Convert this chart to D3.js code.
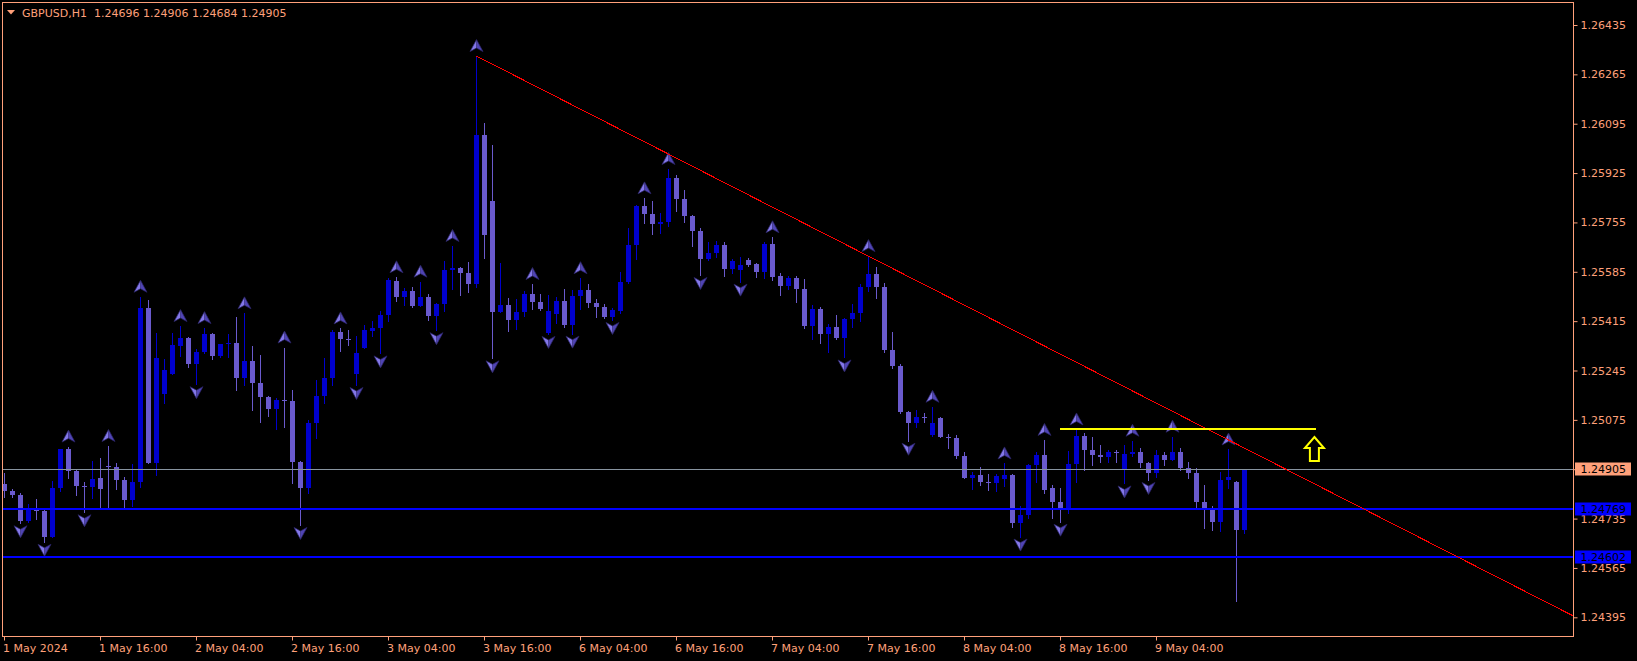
<!DOCTYPE html>
<html><head><meta charset="utf-8">
<script src="https://cdn.jsdelivr.net/npm/d3@7"></script>
<style>
html,body{margin:0;padding:0;background:#000;}
svg{display:block;}
text{font-family:"DejaVu Sans",sans-serif;font-size:11px;}
</style></head><body>
<svg id="chart" width="1637" height="661"></svg>
<script>
const symbolTitle = "GBPUSD,H1";
const headerValues = ["1.24696","1.24906","1.24684","1.24905"];

const opens = [1.24854,1.24831,1.24817,1.24728,1.24771,1.24762,1.24673,1.24839,1.24975,1.24900,
1.24847,1.24843,1.24875,1.24917,1.24914,1.24868,1.24799,1.24861,1.25461,1.24927,
1.25164,1.25234,1.25329,1.25357,1.25267,1.25308,1.25371,1.25295,1.25336,1.25339,
1.25219,1.25278,1.25201,1.25155,1.25112,1.25143,1.25141,1.24931,1.24841,1.25063,
1.25157,1.25219,1.25378,1.25354,1.25233,1.25324,1.25381,1.25392,1.25436,1.25555,
1.25499,1.25519,1.25467,1.25498,1.25433,1.25474,1.25591,1.25598,1.25582,1.25543,
1.26056,1.25829,1.25447,1.25470,1.25419,1.25446,1.25508,1.25482,1.25373,1.25440,
1.25484,1.25402,1.25501,1.25522,1.25478,1.25465,1.25430,1.25450,1.25550,1.25677,
1.25813,1.25784,1.25750,1.25757,1.25908,1.25836,1.25777,1.25726,1.25629,1.25649,
1.25677,1.25595,1.25590,1.25626,1.25612,1.25585,1.25681,1.25570,1.25537,1.25565,
1.25525,1.25399,1.25456,1.25371,1.25395,1.25358,1.25421,1.25442,1.25532,1.25577,
1.25534,1.25316,1.25262,1.25103,1.25063,1.25086,1.25023,1.25081,1.25017,1.25013,
1.24950,1.24876,1.24885,1.24860,1.24859,1.24872,1.24885,1.24721,1.24747,1.24919,
1.24954,1.24841,1.24793,1.24767,1.24923,1.25019,1.24971,1.24954,1.24948,1.24965,
1.24905,1.24957,1.24965,1.24925,1.24893,1.24954,1.24937,1.24965,1.24908,1.24893,
1.24793,1.24764,1.24724,1.24868,1.24860,1.24696];

const highs = [1.24892,1.24838,1.24822,1.24785,1.24803,1.24770,1.24865,1.24975,1.24983,1.24902,
1.24860,1.24933,1.24944,1.24985,1.24927,1.24879,1.24923,1.25499,1.25488,1.25375,
1.25286,1.25373,1.25398,1.25359,1.25320,1.25391,1.25373,1.25338,1.25371,1.25430,
1.25442,1.25329,1.25298,1.25158,1.25149,1.25324,1.25178,1.24933,1.25074,1.25212,
1.25287,1.25384,1.25390,1.25384,1.25364,1.25401,1.25415,1.25451,1.25563,1.25566,
1.25530,1.25531,1.25551,1.25508,1.25476,1.25623,1.25674,1.25602,1.25619,1.26328,
1.26098,1.26022,1.25616,1.25496,1.25490,1.25520,1.25543,1.25508,1.25505,1.25499,
1.25525,1.25523,1.25563,1.25543,1.25490,1.25474,1.25459,1.25585,1.25735,1.25815,
1.25838,1.25830,1.25788,1.25939,1.25918,1.25867,1.25781,1.25735,1.25689,1.25691,
1.25689,1.25628,1.25635,1.25633,1.25616,1.25688,1.25704,1.25580,1.25570,1.25570,
1.25559,1.25470,1.25465,1.25405,1.25436,1.25425,1.25474,1.25543,1.25639,1.25600,
1.25545,1.25377,1.25267,1.25106,1.25109,1.25100,1.25120,1.25084,1.25026,1.25024,
1.24965,1.24896,1.24912,1.24889,1.24887,1.24925,1.24887,1.24778,1.24923,1.24965,
1.25006,1.24851,1.24841,1.24968,1.25042,1.25029,1.25015,1.24988,1.24971,1.24971,
1.24988,1.25003,1.24977,1.24931,1.24971,1.24965,1.25017,1.24979,1.24931,1.24908,
1.24851,1.24778,1.24896,1.24973,1.24866,1.24906];

const lows = [1.24809,1.24809,1.24719,1.24722,1.24735,1.24655,1.24670,1.24829,1.24874,1.24815,
1.24757,1.24807,1.24770,1.24770,1.24836,1.24776,1.24778,1.24845,1.24925,1.24885,
1.25132,1.25234,1.25295,1.25258,1.25198,1.25306,1.25284,1.25293,1.25293,1.25178,
1.25195,1.25109,1.25069,1.25088,1.25043,1.25051,1.24856,1.24713,1.24824,1.25011,
1.25134,1.25195,1.25313,1.25333,1.25195,1.25322,1.25365,1.25304,1.25416,1.25485,
1.25470,1.25465,1.25466,1.25419,1.25384,1.25451,1.25525,1.25505,1.25516,1.25532,
1.25633,1.25287,1.25445,1.25382,1.25387,1.25433,1.25456,1.25455,1.25371,1.25408,
1.25396,1.25372,1.25456,1.25465,1.25428,1.25427,1.25419,1.25442,1.25545,1.25629,
1.25752,1.25714,1.25720,1.25744,1.25795,1.25757,1.25674,1.25574,1.25627,1.25637,
1.25570,1.25582,1.25551,1.25605,1.25568,1.25563,1.25557,1.25505,1.25525,1.25482,
1.25390,1.25352,1.25339,1.25310,1.25352,1.25290,1.25394,1.25416,1.25520,1.25494,
1.25310,1.25253,1.25098,1.25003,1.25049,1.25069,1.25021,1.25015,1.24977,1.24942,
1.24874,1.24836,1.24851,1.24833,1.24831,1.24847,1.24707,1.24673,1.24736,1.24862,
1.24824,1.24736,1.24724,1.24755,1.24862,1.24902,1.24919,1.24931,1.24931,1.24931,
1.24856,1.24952,1.24914,1.24868,1.24879,1.24919,1.24937,1.24902,1.24876,1.24770,
1.24703,1.24696,1.24692,1.24841,1.24452,1.24684];

const closes = [1.24831,1.24817,1.24728,1.24770,1.24762,1.24673,1.24839,1.24975,1.24900,1.24847,
1.24844,1.24871,1.24837,1.24914,1.24868,1.24799,1.24861,1.25461,1.24927,1.25287,
1.25247,1.25332,1.25357,1.25267,1.25308,1.25371,1.25295,1.25336,1.25339,1.25219,
1.25278,1.25201,1.25155,1.25112,1.25143,1.25141,1.24931,1.24841,1.25063,1.25157,
1.25219,1.25378,1.25354,1.25352,1.25304,1.25384,1.25392,1.25436,1.25557,1.25499,
1.25519,1.25467,1.25498,1.25433,1.25474,1.25591,1.25598,1.25582,1.25543,1.26056,
1.25712,1.25446,1.25470,1.25419,1.25446,1.25508,1.25482,1.25457,1.25450,1.25484,
1.25402,1.25501,1.25522,1.25478,1.25465,1.25430,1.25453,1.25550,1.25677,1.25813,
1.25784,1.25750,1.25757,1.25908,1.25836,1.25777,1.25726,1.25629,1.25649,1.25677,
1.25595,1.25622,1.25607,1.25608,1.25585,1.25681,1.25568,1.25537,1.25565,1.25525,
1.25399,1.25456,1.25371,1.25395,1.25358,1.25421,1.25442,1.25532,1.25577,1.25534,
1.25316,1.25262,1.25103,1.25063,1.25086,1.25084,1.25063,1.25017,1.25013,1.24950,
1.24876,1.24885,1.24860,1.24859,1.24882,1.24885,1.24721,1.24747,1.24919,1.24954,
1.24833,1.24793,1.24767,1.24923,1.25019,1.24971,1.24954,1.24948,1.24965,1.24963,
1.24957,1.24965,1.24925,1.24893,1.24954,1.24937,1.24965,1.24908,1.24893,1.24793,
1.24764,1.24724,1.24868,1.24877,1.24696,1.24905];

const priceTicks = [1.26435,1.26265,1.26095,1.25925,1.25755,1.25585,1.25415,1.25245,1.25075,1.24905,1.24735,1.24565,1.24395];
const timeTickIndex = [0,12,24,36,48,60,72,84,96,108,120,132,144];
const timeTickLabels = ["1 May 2024","1 May 16:00","2 May 04:00","2 May 16:00","3 May 04:00","3 May 16:00","6 May 04:00","6 May 16:00","7 May 04:00","7 May 16:00","8 May 04:00","8 May 16:00","9 May 04:00"];
const upFractals = [8,13,17,22,25,30,35,42,49,52,56,59,66,72,80,83,96,108,116,125,130,134,141,146,153];
const downFractals = [2,5,10,24,37,44,47,54,61,68,71,76,87,92,105,113,127,132,140,143];
const levelLines = [1.24769, 1.24602];
const bidPrice = 1.24905;
const trendPoints = [[59, 1.26328], [196, 1.24401]];
const resistance = {from: 132, to: 164, price: 1.25044};
const arrowMark = {bar: 163.8, price: 1.25016};

const FG = "#FFA07A", BULL = "#0000CD", BEAR = "#6A5ACD";
const pL = 2.5, pR = 1573.5, pT = 2.5, pB = 636.5;

const svg = d3.select("#chart");
svg.append("rect").attr("width",1637).attr("height",661).attr("fill","#000");

const x = d3.scaleLinear().domain([0, 155]).range([4, 1244]);
const y = d3.scaleLinear().domain([1.24395, 1.26435]).range([617.3, 25]);

svg.append("defs").append("clipPath").attr("id","plot")
  .append("rect").attr("x",pL).attr("y",pT).attr("width",pR-pL).attr("height",pB-pT);

const plot = svg.append("g").attr("clip-path","url(#plot)");

// candles
const bars = d3.range(opens.length).map(i => ({i, o:opens[i], h:highs[i], l:lows[i], c:closes[i]}));
const cg = plot.append("g").attr("shape-rendering","crispEdges");
bars.forEach(d => {
  const col = d.c >= d.o ? BULL : BEAR;
  const cx = x(d.i);
  const yh = Math.round(y(d.h)), yl = Math.round(y(d.l));
  cg.append("rect").attr("x", cx).attr("width",1).attr("y", yh).attr("height", Math.max(1, yl-yh+1)).attr("fill", col);
  const bt = Math.round(y(Math.max(d.o,d.c))), bb = Math.round(y(Math.min(d.o,d.c)));
  cg.append("rect").attr("x", cx-2).attr("width",5).attr("y", bt).attr("height", Math.max(1, bb-bt)).attr("fill", col);
});

// fractals
function fractal(g, cx, cy, up) {
  const s = up ? 1 : -1;
  const gg = g.append("g").attr("transform", `translate(${cx},${cy})`);
  gg.append("path").attr("d", `M0,${-6.5*s} L0,${2*s} L-6.5,${5.5*s} Z`).attr("fill","#8478E8");
  gg.append("path").attr("d", `M0,${-6.5*s} L6.5,${5.5*s} L0,${2*s} Z`).attr("fill","#5044B4");
  gg.append("path").attr("d", `M0,${-6.5*s} L6.5,${5.5*s} L0,${2*s} L-6.5,${5.5*s} Z`).attr("fill","none").attr("stroke","#2A2466").attr("stroke-width",0.7);
}
const fg = plot.append("g");
upFractals.forEach(i => fractal(fg, x(i)+0.5, y(highs[i]) - 10, true));
downFractals.forEach(i => fractal(fg, x(i)+0.5, y(lows[i]) + 8, false));

// bid line
plot.append("line").attr("x1",pL).attr("x2",pR).attr("y1",Math.round(y(bidPrice))+0.5).attr("y2",Math.round(y(bidPrice))+0.5)
  .attr("stroke","#8894A0").attr("stroke-width",1);
// level lines
levelLines.forEach(p => {
  plot.append("line").attr("x1",pL).attr("x2",pR).attr("y1",Math.round(y(p))).attr("y2",Math.round(y(p)))
    .attr("stroke","#0000FF").attr("stroke-width",2);
});
// trend line
plot.append("line")
  .attr("x1", x(trendPoints[0][0])+0.5).attr("y1", y(trendPoints[0][1]))
  .attr("x2", x(trendPoints[1][0])+0.5).attr("y2", y(trendPoints[1][1]))
  .attr("stroke","#FF0000").attr("stroke-width",1).attr("shape-rendering","crispEdges");
// resistance
plot.append("line").attr("x1", x(resistance.from)).attr("x2", x(resistance.to))
  .attr("y1", Math.round(y(resistance.price))).attr("y2", Math.round(y(resistance.price)))
  .attr("stroke","#FFFF00").attr("stroke-width",2);
// arrow
const ax = x(arrowMark.bar), ay = y(arrowMark.price);
plot.append("path").attr("transform",`translate(${ax},${ay})`)
  .attr("d","M0,0 L9.5,11 L4.5,11 L4.5,24 L-4.5,24 L-4.5,11 L-9.5,11 Z")
  .attr("fill","#000").attr("stroke","#FFFF00").attr("stroke-width",2).attr("stroke-linejoin","miter");

// frame
svg.append("rect").attr("x",pL).attr("y",pT).attr("width",pR-pL).attr("height",pB-pT)
  .attr("fill","none").attr("stroke",FG).attr("stroke-width",1);

// right axis
const ra = svg.append("g").attr("transform",`translate(${pR},0)`).attr("color",FG)
  .call(d3.axisRight(y).tickValues(priceTicks).tickSize(4).tickPadding(3).tickFormat(d3.format(".5f")));
ra.select(".domain").remove();
ra.selectAll("text").style("font-family","'DejaVu Sans',sans-serif").style("font-size","11px");

// bottom axis
const ba = svg.append("g").attr("transform",`translate(0,${pB})`).attr("color",FG)
  .call(d3.axisBottom(x).tickValues(timeTickIndex).tickSize(4).tickPadding(4).tickFormat((d,i)=>timeTickLabels[i]));
ba.select(".domain").remove();
ba.selectAll("text").attr("text-anchor","start").attr("x",-1.5)
  .style("font-family","'DejaVu Sans',sans-serif").style("font-size","11px");

// price labels
function priceLabel(p, bg, fgc) {
  const yc = y(p);
  svg.append("rect").attr("x",1575).attr("y",Math.round(yc)-6.5).attr("width",56).attr("height",13).attr("fill",bg);
  svg.append("text").attr("x",1580.5).attr("y",yc).attr("dy","0.35em").attr("fill",fgc).text(d3.format(".5f")(p));
}
priceLabel(bidPrice, FG, "#000");
levelLines.forEach(p => priceLabel(p, "#0000FF", "#000"));

// header
svg.append("path").attr("d","M7,10 L15,10 L11,14.5 Z").attr("fill",FG);
svg.append("text").attr("x",22).attr("y",16.5).attr("fill",FG).attr("xml:space","preserve").style("white-space","pre")
  .text(symbolTitle + "  " + headerValues.join(" "));
</script>
</body></html>
